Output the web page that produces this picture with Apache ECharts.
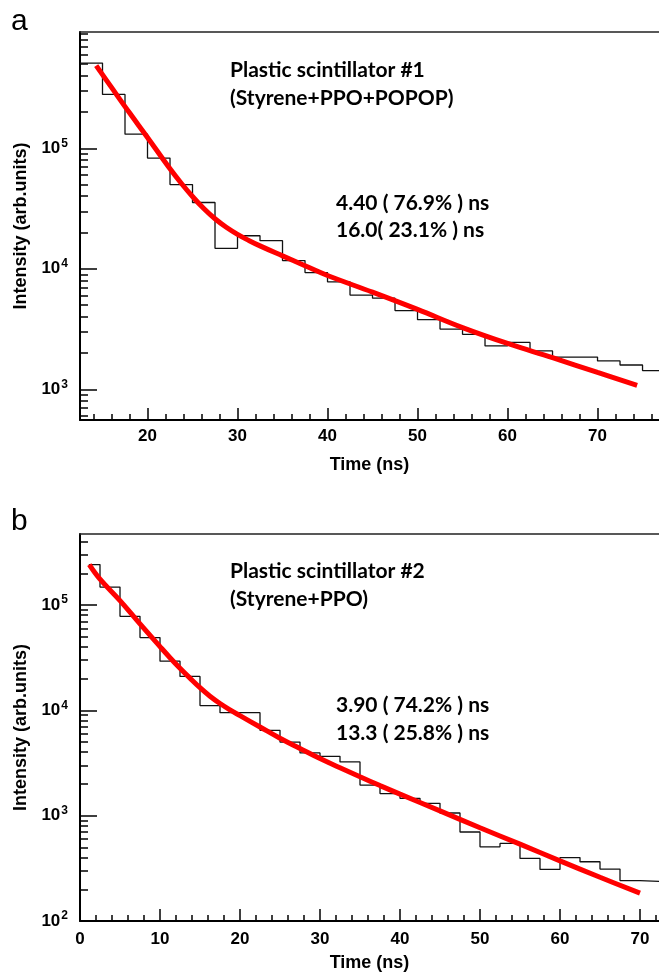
<!DOCTYPE html>
<html>
<head>
<meta charset="utf-8">
<script src="https://cdn.jsdelivr.net/npm/echarts@6/dist/echarts.min.js"></script>
<style>
  html, body { margin: 0; padding: 0; background: #fff; }
  #chart { width: 659px; height: 977px; }
</style>
</head>
<body>
<div id="chart"></div>
<script>
// ---- panel a : Styrene+PPO+POPOP ----
var binStartA = [12.5, 15, 17.5, 20, 22.5, 25, 27.5, 30, 32.5, 35, 37.5, 40, 42.5, 45, 47.5, 50, 52.5, 55, 57.5, 60, 62.5, 65, 67.5, 70, 72.5, 75]
var countsA = [5.1e5, 2.8e5, 1.31e5, 8.3e4, 5.0e4, 3.55e4, 1.48e4, 1.88e4, 1.71e4, 1.17e4, 9.3e3, 7.8e3, 6.05e3, 5.7e3, 4.5e3, 3.78e3, 3.16e3, 2.86e3, 2.29e3, 2.45e3, 2.08e3, 1.85e3, 1.85e3, 1.72e3, 1.59e3, 1.43e3]
var binEndA = 77.5
var fitTimeA = [14.3, 16, 18, 20, 22.5, 23.75, 25, 26.25, 27.5, 28.75, 30, 31.25, 32.5, 35, 37.5, 40, 45, 50, 55, 60, 65, 70, 74.4]
var fitA = [4.85e5, 3.2e5, 1.97e5, 1.23e5, 6.76e4, 5.13e4, 3.98e4, 3.16e4, 2.6e4, 2.21e4, 1.93e4, 1.72e4, 1.55e4, 1.28e4, 1.06e4, 8.79e3, 6.4e3, 4.6e3, 3.25e3, 2.4e3, 1.83e3, 1.38e3, 1.08e3]

// ---- panel b : Styrene+PPO ----
var binStartB = [1.1, 2.5, 5, 7.5, 10, 12.5, 15, 17.5, 20, 22.5, 25, 27.5, 30, 32.5, 35, 37.5, 40, 42.5, 45, 47.5, 50, 52.5, 55, 57.5, 60, 62.5, 65, 67.5, 70]
var countsB = [2.42e5, 1.48e5, 7.8e4, 4.9e4, 2.93e4, 2.1e4, 1.11e4, 9.5e3, 9.5e3, 6.46e3, 5.0e3, 3.94e3, 3.66e3, 3.24e3, 1.95e3, 1.62e3, 1.46e3, 1.31e3, 1.06e3, 700, 506, 545, 393, 309, 400, 365, 311, 242, 233]
var binEndB = 75
var fitTimeB = [1.16, 2.5, 5, 7.5, 10, 11.25, 12.5, 13.75, 15, 16.25, 17.5, 18.75, 20, 22.5, 25, 27.5, 30, 32.5, 35, 37.5, 40, 45, 50, 55, 60, 65, 70]
var fitB = [2.42e5, 1.76e5, 1.10e5, 6.61e4, 4.03e4, 3.16e4, 2.51e4, 2.02e4, 1.64e4, 1.36e4, 1.16e4, 1.01e4, 8.91e3, 6.95e3, 5.43e3, 4.34e3, 3.48e3, 2.85e3, 2.34e3, 1.93e3, 1.60e3, 1.11e3, 767, 537, 372, 260, 184]

// ticks
var xMajorA = [20, 30, 40, 50, 60, 70]
var xMajorB = [0, 10, 20, 30, 40, 50, 60, 70]
var yMajorA = [1e3, 1e4, 1e5]
var yMajorB = [1e2, 1e3, 1e4, 1e5]

var textA = ['Plastic scintillator #1', '(Styrene+PPO+POPOP)', '4.40 ( 76.9% ) ns', '16.0( 23.1% ) ns']
var textB = ['Plastic scintillator #2', '(Styrene+PPO)', '3.90 ( 74.2% ) ns', '13.3 ( 25.8% ) ns']

function minorX(lo, hi, majors) {
  var out = []
  for (var t = lo; t <= hi; t += 2) if (majors.indexOf(t) < 0) out.push(t)
  return out
}
function minorY(lo, hi) {
  var out = []
  for (var d = 1; d < 1e7; d *= 10)
    for (var k = 2; k <= 9; k++) {
      var v = k * d
      if (v >= lo && v <= hi) out.push(v)
    }
  return out
}
function histData(starts, counts, end) {
  var d = []
  for (var i = 0; i < starts.length; i++) d.push([starts[i], counts[i]])
  d.push([end, counts[counts.length - 1]])
  return d
}
function pairs(xs, ys) {
  return xs.map(function (x, i) { return [x, ys[i]] })
}

var axFont = 'Liberation Sans, Arial, sans-serif'
var labelStyle = { color: '#000', fontFamily: axFont, fontWeight: 'bold', fontSize: 17 }
var nameStyle = { color: '#000', fontFamily: axFont, fontWeight: 'bold', fontSize: 18 }

function xAxes(grid, min, max, majors, labelMargin, nameGap) {
  return [{
    gridIndex: grid, type: 'value', position: 'bottom', min: min, max: max,
    name: 'Time (ns)', nameLocation: 'middle', nameGap: nameGap,
    nameTextStyle: nameStyle,
    axisLine: { onZero: false, lineStyle: { color: '#000', width: 2 } },
    axisTick: { inside: true, length: 12, customValues: majors, lineStyle: { color: '#000', width: 1.5 } },
    axisLabel: Object.assign({ customValues: majors, margin: labelMargin }, labelStyle),
    splitLine: { show: false }
  }, {
    gridIndex: grid, type: 'value', position: 'bottom', min: min, max: max,
    axisLine: { show: false, onZero: false },
    axisTick: { inside: true, length: 6, customValues: minorX(Math.ceil(min / 2) * 2, max, majors), lineStyle: { color: '#000', width: 1.5 } },
    axisLabel: { show: false },
    splitLine: { show: false }
  }, {
    gridIndex: grid, type: 'value', position: 'top', min: min, max: max,
    axisLine: { onZero: false, lineStyle: { color: '#222', width: 1.5 } },
    axisTick: { show: false }, axisLabel: { show: false }, splitLine: { show: false }
  }]
}

function yAxes(grid, min, max, majors) {
  return [{
    gridIndex: grid, type: 'log', logBase: 10, position: 'left', min: min, max: max,
    name: 'Intensity (arb.units)', nameLocation: 'middle', nameGap: 49,
    nameTextStyle: nameStyle,
    axisLine: { onZero: false, lineStyle: { color: '#000', width: 2 } },
    axisTick: { inside: true, length: 17, customValues: majors, lineStyle: { color: '#000', width: 1.5 } },
    axisLabel: {
      customValues: majors, margin: 12,
      formatter: function (v) { return '{b|10}{s|' + Math.round(Math.log10(v)) + '}' },
      rich: {
        b: { color: '#000', fontFamily: axFont, fontWeight: 'bold', fontSize: 17 },
        s: { color: '#000', fontFamily: axFont, fontWeight: 'bold', fontSize: 12, padding: [0, 0, 10, 1] }
      }
    },
    splitLine: { show: false }
  }, {
    gridIndex: grid, type: 'log', logBase: 10, position: 'left', min: min, max: max,
    axisLine: { show: false, onZero: false },
    axisTick: { inside: true, length: 8, customValues: minorY(min, max), lineStyle: { color: '#000', width: 1.5 } },
    axisLabel: { show: false },
    splitLine: { show: false }
  }]
}

function txt(x, y, s, font) {
  return { type: 'text', x: x, y: y, style: { text: s, font: font, fill: '#000', verticalAlign: 'middle' } }
}

var noteFont = 'bold 21px Lato, sans-serif'
var letterFont = '30px Liberation Sans, Arial, sans-serif'

var chart = echarts.init(document.getElementById('chart'))
chart.setOption({
  backgroundColor: '#fff',
  animation: false,
  grid: [
    { left: 80, top: 32, width: 579, height: 388 },
    { left: 80, top: 534, width: 579, height: 387 }
  ],
  xAxis: [].concat(
    xAxes(0, 12.5, 76.83, xMajorA, 8, 36),
    xAxes(1, 0, 72.375, xMajorB, 10, 33)
  ),
  yAxis: [].concat(
    yAxes(0, 556, 9.23e5, yMajorA),
    yAxes(1, 100, 4.72e5, yMajorB)
  ),
  series: [
    { type: 'line', xAxisIndex: 0, yAxisIndex: 0, step: 'end', symbol: 'none', clip: true,
      lineStyle: { color: '#111', width: 1.3 }, data: histData(binStartA, countsA, binEndA) },
    { type: 'line', xAxisIndex: 0, yAxisIndex: 0, smooth: 0.4, symbol: 'none', clip: true,
      lineStyle: { color: '#ff0000', width: 5 }, data: pairs(fitTimeA, fitA) },
    { type: 'line', xAxisIndex: 3, yAxisIndex: 2, step: 'end', symbol: 'none', clip: true,
      lineStyle: { color: '#111', width: 1.3 }, data: histData(binStartB, countsB, binEndB) },
    { type: 'line', xAxisIndex: 3, yAxisIndex: 2, smooth: 0.4, symbol: 'none', clip: true,
      lineStyle: { color: '#ff0000', width: 5 }, data: pairs(fitTimeB, fitB) }
  ],
  graphic: [
    txt(11, 22, 'a', letterFont),
    txt(11, 522, 'b', letterFont),
    txt(230, 70, textA[0], noteFont),
    txt(230, 98, textA[1], noteFont),
    txt(336, 203, textA[2], noteFont),
    txt(336, 230, textA[3], noteFont),
    txt(230, 571, textB[0], noteFont),
    txt(230, 599, textB[1], noteFont),
    txt(336, 705, textB[2], noteFont),
    txt(336, 733, textB[3], noteFont)
  ]
})
</script>
</body>
</html>
